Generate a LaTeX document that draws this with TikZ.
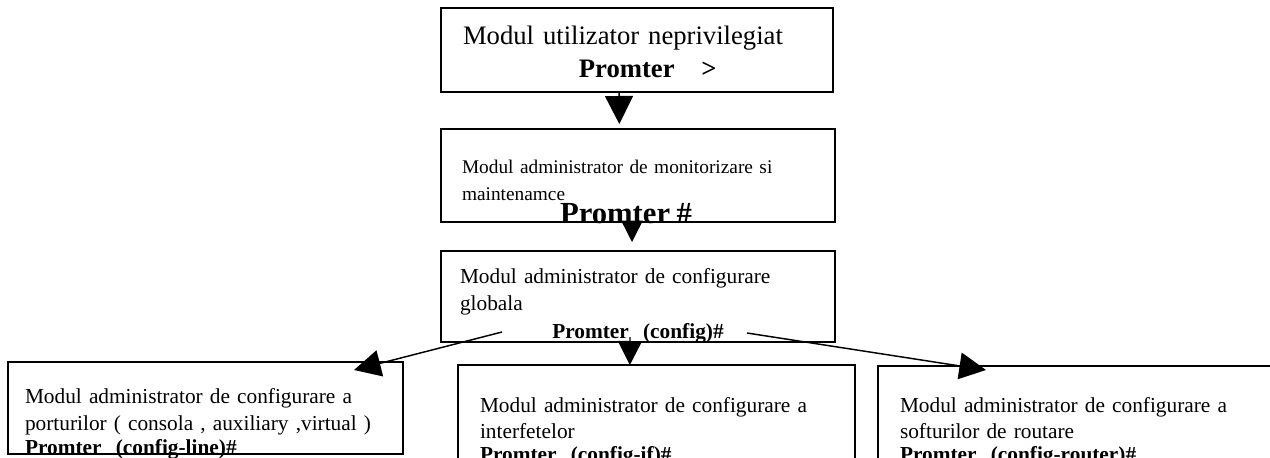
\documentclass[tikz,border=0pt]{standalone}
\usepackage{fontspec}
\setmainfont{Liberation Serif}
\usetikzlibrary{arrows.meta}

\begin{document}
\begin{tikzpicture}[x=0.75pt,y=-0.75pt,
    modbox/.style={draw,line width=1.5pt,anchor=north west,inner ysep=0pt,outer sep=0pt,align=left},
    flow/.style={line width=1.1pt,-{Triangle[length=#1,width=#1]}},
    flow/.default=20pt]
  \useasboundingbox (0,0) rectangle (1270,457);
  \clip (0,0) rectangle (1270,457);
  \node[modbox,inner xsep=16.5pt,text width=261pt,text height=27pt,text depth=36pt,
        font=\fontsize{20}{24.75}\selectfont] (user) at (441,8)
    {Modul utilizator neprivilegiat\\
     \makebox[\hsize]{\hspace{16pt}\bfseries Promter\ \ \ >}};
  \node[modbox,inner xsep=15.75pt,text width=264pt,text height=33pt,text depth=36.75pt,
        font=\fontsize{14.5}{20.25}\selectfont] (monit) at (441,129)
    {Modul administrator de monitorizare si\\ maintenamce\\[-3pt]
     \makebox[\hsize]{\fontsize{23}{20.25}\selectfont\bfseries Promter \#\hspace{18pt}}};
  \node[modbox,inner xsep=14.25pt,text width=267pt,text height=24pt,text depth=44.25pt,
        font=\fontsize{16}{20.25}\selectfont] (glob) at (441,251)
    {Modul administrator de configurare\\ globala\\[0.75pt]
     \makebox[\hsize]{\bfseries Promter\ \ (config)\#}};
  \node[modbox,inner xsep=12.75pt,text width=270.75pt,text height=30.75pt,text depth=38.25pt,
        font=\fontsize{16}{20.25}\selectfont] (porturi) at (8,362)
    {Modul administrator de configurare a\\ porturilor ( consola , auxiliary ,virtual )\\[-2.25pt]
     \textbf{Promter\ \ (config-line)\#}};
  \node[modbox,inner xsep=16.5pt,text width=264.75pt,text height=35.25pt,text depth=37.5pt,
        font=\fontsize{16}{19.5}\selectfont] (iface) at (458,365)
    {Modul administrator de configurare a\\ interfetelor\\[-2.25pt]
     \textbf{Promter\ \ (config-if)\#}};
  \node[modbox,inner xsep=16.5pt,text width=264.75pt,text height=34.5pt,text depth=37.5pt,
        font=\fontsize{16}{19.5}\selectfont] (routare) at (878,366)
    {Modul administrator de configurare a\\ softurilor de routare\\[-2.25pt]
     \textbf{Promter\ \ (config-router)\#}};

  \draw[flow=21pt] ([xshift=-13.5pt]user.south) -- ([xshift=-14pt,yshift=3.75pt]monit.north);
  \draw[flow=16pt] ([xshift=-4.5pt]monit.south) -- ([xshift=-4.5pt,yshift=6.75pt]glob.north);
  \draw[flow=18pt] ([xshift=-6pt,yshift=3.75pt]glob.south) -- ([xshift=-20pt]iface.north);
  \draw[flow] ([xshift=45.75pt,yshift=7.5pt]glob.south west) -- ([xshift=-36.75pt,yshift=-6pt]porturi.north east);
  \draw[flow] ([xshift=-66pt,yshift=6.75pt]glob.south east) -- ([xshift=81pt,yshift=-3pt]routare.north west);
\end{tikzpicture}
\end{document}
